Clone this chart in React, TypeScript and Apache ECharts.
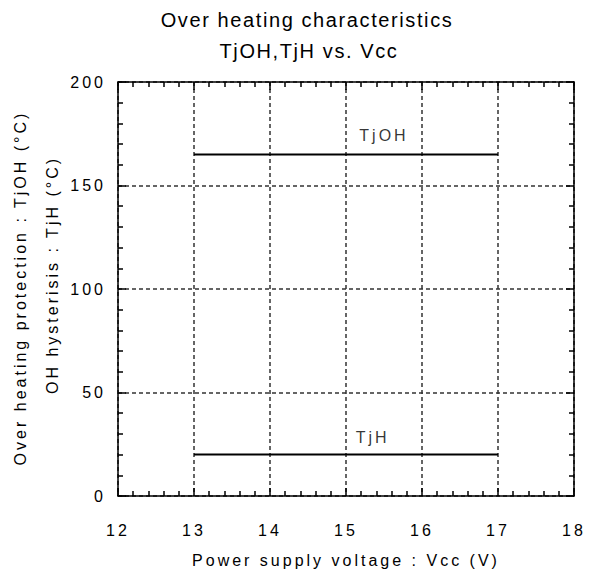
import React, { useEffect, useRef } from "react";
import * as echarts from "echarts";

const vcc = [13, 17];
const tjoh = [165, 165];
const tjh = [20, 20];
const seriesNames = ["TjOH", "TjH"];
const labelX = [15.5, 15.35];
const labelY = [174, 28.5];
const xMin = 12, xMax = 18, xStep = 1;
const yMin = 0, yMax = 200, yStep = 50;

const FONT = "'Liberation Sans', Arial, sans-serif";

const css = `
.oh-chart svg text { letter-spacing: 3px; }
.oh-chart svg text[style*="20px"] { letter-spacing: 1.6px; }
`;

export default function App() {
  const ref = useRef<HTMLDivElement>(null);
  useEffect(() => {
    if (!ref.current) return;
    const chart = echarts.init(ref.current, null, { renderer: "svg" });
    const grid = "#333";
    const axisCommon = (show: boolean) => ({
      axisLine: { show: true, onZero: false, lineStyle: { color: "#000", width: 1.5 } },
      axisTick: { show: true, inside: true, length: 8, lineStyle: { color: "#000", width: 1.5 } },
      minorTick: { show: true, splitNumber: 5, length: 5, lineStyle: { color: "#000", width: 1.5 } },
      axisLabel: { show, color: "#000", fontSize: 16, fontFamily: FONT },
    });
    chart.setOption({
      animation: false,
      backgroundColor: "#fff",
      title: [
        { text: "Over heating characteristics", left: 302, textAlign: "center", top: 5,
          textStyle: { fontSize: 20, fontWeight: "normal", color: "#000", fontFamily: FONT } },
        { text: "TjOH,TjH vs. Vcc", left: 304, textAlign: "center", top: 36,
          textStyle: { fontSize: 20, fontWeight: "normal", color: "#000", fontFamily: FONT } },
      ],
      grid: { left: 118, top: 82, right: 19, bottom: 82 },
      xAxis: [
        {
          type: "value", min: xMin, max: xMax, interval: xStep, position: "bottom",
          name: "Power supply voltage : Vcc (V)", nameLocation: "middle", nameGap: 56,
          nameTextStyle: { fontSize: 16, color: "#000", fontFamily: FONT },
          ...axisCommon(true),
          axisLabel: { show: true, color: "#000", fontSize: 16, fontFamily: FONT, margin: 26 },
          splitLine: { show: true, lineStyle: { color: grid, type: [4, 3], width: 1.5 } },
        },
        {
          type: "value", min: xMin, max: xMax, interval: xStep, position: "top",
          ...axisCommon(false), splitLine: { show: false },
        },
      ],
      yAxis: [
        {
          type: "value", min: yMin, max: yMax, interval: yStep, position: "left",
          ...axisCommon(true),
          axisLabel: { show: true, color: "#000", fontSize: 16, fontFamily: FONT, margin: 12 },
          splitLine: { show: true, lineStyle: { color: grid, type: [4, 3], width: 1.5 } },
        },
        {
          type: "value", min: yMin, max: yMax, interval: yStep, position: "right",
          ...axisCommon(false), splitLine: { show: false },
        },
      ],
      graphic: [
        { type: "text", x: 20, y: 288, rotation: Math.PI / 2,
          style: { text: "Over heating protection : TjOH (°C)", fontSize: 16, fontFamily: FONT,
            fill: "#000", align: "center", verticalAlign: "middle" } },
        { type: "text", x: 52, y: 275, rotation: Math.PI / 2,
          style: { text: "OH hysterisis : TjH (°C)", fontSize: 16, fontFamily: FONT,
            fill: "#000", align: "center", verticalAlign: "middle" } },
      ],
      series: [
        { name: seriesNames[0], type: "line", data: vcc.map((x, i) => [x, tjoh[i]]), symbol: "none",
          lineStyle: { color: "#000", width: 2 }, silent: true },
        { name: seriesNames[1], type: "line", data: vcc.map((x, i) => [x, tjh[i]]), symbol: "none",
          lineStyle: { color: "#000", width: 2 }, silent: true },
        { type: "scatter", symbolSize: 0, silent: true,
          data: seriesNames.map((n, i) => ({ name: n, value: [labelX[i], labelY[i]] })),
          label: { show: true, position: "inside", formatter: "{b}", color: "#000", fontSize: 16, fontFamily: FONT } },
      ],
    });
    return () => chart.dispose();
  }, []);
  return (
    <>
      <style>{css}</style>
      <div ref={ref} className="oh-chart" style={{ position: "fixed", left: 0, top: 0, width: 593, height: 578 }} />
    </>
  );
}
